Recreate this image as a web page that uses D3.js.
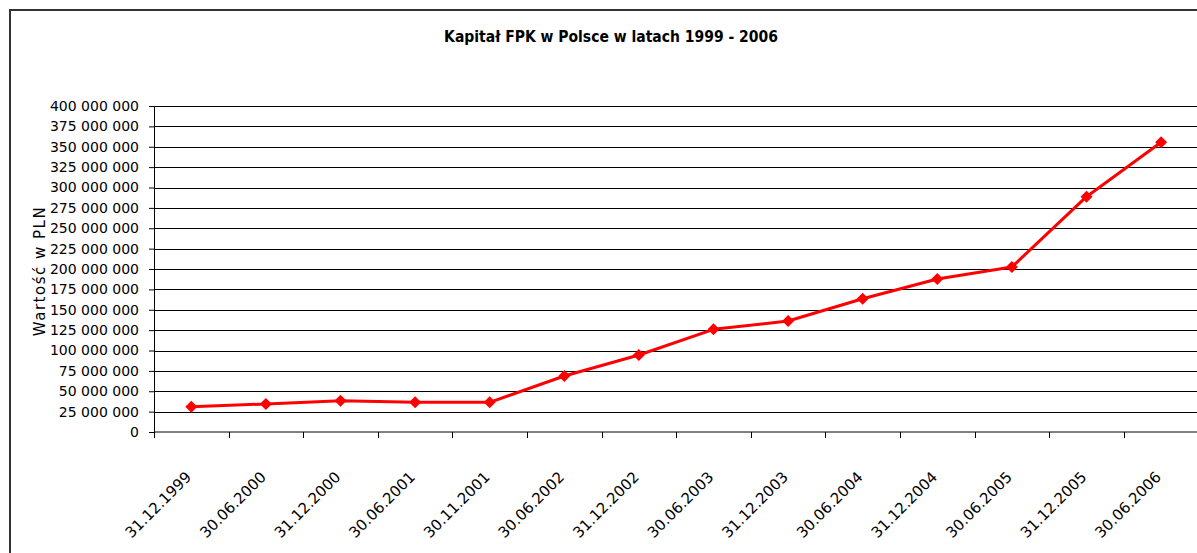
<!DOCTYPE html>
<html lang="pl">
<head>
    <meta charset="UTF-8">
    <title>Kapitał FPK w Polsce w latach 1999 - 2006</title>
    <script src="https://d3js.org/d3.v7.min.js"></script>
    <style>
        body { margin: 0; background: #fff; }
        text { font-family: "DejaVu Sans", sans-serif; fill: #000; }
    </style>
</head>
<body>
    <div id="chart"></div>
    <script>
        // dates on the x axis
        var dates = ["31.12.1999", "30.06.2000", "31.12.2000", "30.06.2001", "30.11.2001",
                     "30.06.2002", "31.12.2002", "30.06.2003", "31.12.2003", "30.06.2004",
                     "31.12.2004", "30.06.2005", "31.12.2005", "30.06.2006"];
        // capital in PLN
        var capital = [31000000, 34400000, 38400000, 36400000, 36400000,
                       68700000, 94500000, 126000000, 136200000, 163500000,
                       187700000, 202500000, 288700000, 355500000];
        var yTicks = d3.range(0, 400000001, 25000000);

        var W = 1197, H = 553;
        var margin = {top: 106, right: -1.4, bottom: 121, left: 154},
            width = W - margin.left - margin.right,
            height = H - margin.top - margin.bottom;

        var svg = d3.select("#chart").append("svg")
            .attr("width", W)
            .attr("height", H);

        // outer frame (cropped on the right and bottom)
        svg.append("path")
            .attr("d", "M10,560 V10 H1205")
            .attr("fill", "none")
            .attr("stroke", "#333")
            .attr("stroke-width", 2);

        svg.append("text")
            .attr("x", 611)
            .attr("y", 42)
            .attr("text-anchor", "middle")
            .style("font-family", "'DejaVu Sans Condensed', 'DejaVu Sans', sans-serif")
            .style("font-weight", "bold")
            .style("font-size", "15.5px")
            .text("Kapitał FPK w Polsce w latach 1999 - 2006");

        var g = svg.append("g")
            .attr("transform", "translate(" + margin.left + "," + margin.top + ")");

        var x = d3.scaleBand()
            .domain(dates)
            .range([0, width]);

        var y = d3.scaleLinear()
            .domain([0, 400000000])
            .range([height, 0]);

        var fmt = d3.formatLocale({decimal: ",", thousands: " ", grouping: [3], currency: ["", " zł"]}).format(",d");

        // gridlines
        g.append("g")
            .selectAll("line")
            .data(yTicks.slice(1))
            .enter().append("line")
                .attr("x1", 0)
                .attr("x2", width)
                .attr("y1", function(d) { return Math.round(y(d)) + 0.5; })
                .attr("y2", function(d) { return Math.round(y(d)) + 0.5; })
                .attr("stroke", "#000")
                .attr("stroke-width", 1);

        // y axis
        var yAxis = g.append("g")
            .call(d3.axisLeft(y).tickValues(yTicks).tickFormat(fmt).tickSize(5).tickPadding(10));
        yAxis.select(".domain").attr("stroke", "#000");
        yAxis.selectAll("text").style("font-size", "14px");

        // x axis: ticks on category boundaries
        var xg = g.append("g").attr("transform", "translate(0," + height + ")");
        xg.append("line")
            .attr("x1", 0).attr("x2", width)
            .attr("stroke", "#000");
        xg.selectAll(".tick")
            .data(dates)
            .enter().append("line")
                .attr("x1", function(d) { return Math.round(x(d)) + 0.5; })
                .attr("x2", function(d) { return Math.round(x(d)) + 0.5; })
                .attr("y1", 0)
                .attr("y2", 6)
                .attr("stroke", "#000");
        xg.selectAll("text")
            .data(dates)
            .enter().append("text")
                .attr("transform", function(d) {
                    return "translate(" + (x(d) + x.bandwidth() / 2 + 1) + ",46) rotate(-45)";
                })
                .attr("text-anchor", "end")
                .style("font-size", "15px")
                .text(function(d) { return d; });

        // y axis title
        svg.append("text")
            .attr("transform", "translate(45,271) rotate(-90)")
            .attr("text-anchor", "middle")
            .style("font-size", "15px")
            .style("letter-spacing", "1.5px")
            .text("Wartość w PLN");

        // the series
        var pts = dates.map(function(d, i) { return {date: d, value: capital[i]}; });
        var cx = function(d) { return x(d.date) + x.bandwidth() / 2; };

        g.append("path")
            .datum(pts)
            .attr("fill", "none")
            .attr("stroke", "#ff0000")
            .attr("stroke-width", 3)
            .attr("stroke-linejoin", "round")
            .attr("d", d3.line().x(cx).y(function(d) { return y(d.value); }));

        g.selectAll(".mark")
            .data(pts)
            .enter().append("path")
                .attr("class", "mark")
                .attr("transform", function(d) { return "translate(" + cx(d) + "," + y(d.value) + ") rotate(45)"; })
                .attr("d", d3.symbol(d3.symbolSquare, 72))
                .attr("fill", "#ff0000");
    </script>
</body>
</html>
